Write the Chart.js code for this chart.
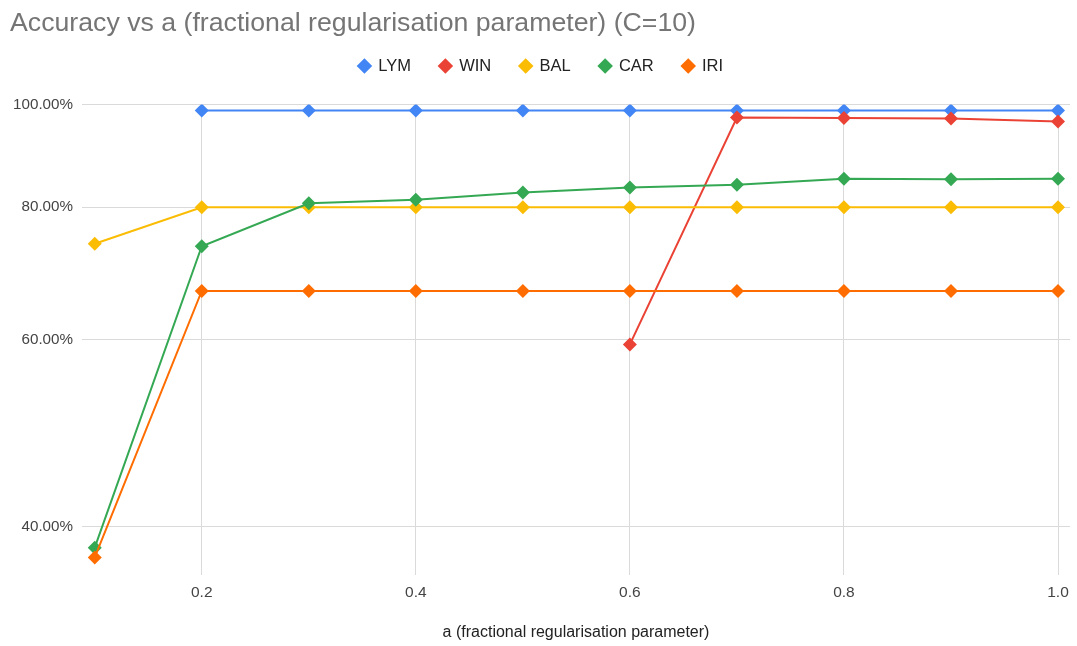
<!DOCTYPE html>
<html>
<head>
<meta charset="utf-8">
<script src="https://cdn.jsdelivr.net/npm/chart.js@4"></script>
<style>
  html, body { margin: 0; padding: 0; background: #fff; }
  #wrap { width: 1077px; height: 646px; }
</style>
</head>
<body>
<div id="wrap"><canvas id="accuracyChart" width="1077" height="646"></canvas></div>
<script>
// a values (x axis)
const aValues = [0.1, 0.2, 0.3, 0.4, 0.5, 0.6, 0.7, 0.8, 0.9, 1.0];

// accuracy per dataset
const seriesNames = ["LYM", "WIN", "BAL", "CAR", "IRI"];
const lym = [null, 0.987, 0.987, 0.987, 0.987, 0.987, 0.987, 0.987, 0.987, 0.987];
const win = [null, null, null, null, null, 0.594, 0.972, 0.971, 0.970, 0.964];
const bal = [0.739, 0.80, 0.80, 0.80, 0.80, 0.80, 0.80, 0.80, 0.80, 0.80];
const car = [0.382, 0.735, 0.807, 0.813, 0.826, 0.835, 0.840, 0.851, 0.850, 0.851];
const iri = [0.374, 0.667, 0.667, 0.667, 0.667, 0.667, 0.667, 0.667, 0.667, 0.667];

const xTicks = [0.2, 0.4, 0.6, 0.8, 1.0];
const yTicks = [0.4, 0.6, 0.8, 1.0];

const seriesColors = ["#4285F4", "#EA4335", "#FBBC04", "#34A853", "#FF6D01"];
const allSeries = [lym, win, bal, car, iri];

const FONT = "'Liberation Sans', Arial, sans-serif";

// Pair up x and y values for the linear x scale
function toPoints(values) {
  return aValues.map((a, i) => ({ x: a, y: values[i] }));
}

const datasets = allSeries.map((values, i) => ({
  label: seriesNames[i],
  data: toPoints(values),
  borderColor: seriesColors[i],
  backgroundColor: seriesColors[i],
  borderWidth: 2,
  pointStyle: "rectRot",
  pointRadius: 7,
  pointHoverRadius: 7,
  pointBorderWidth: 0,
  order: allSeries.length - i, // later series on top
}));

// Make the legend reach down to the plot area
const legendHeightPlugin = {
  id: "legendHeight",
  beforeInit(chart) {
    const origFit = chart.legend.fit;
    chart.legend.fit = function () {
      origFit.call(this);
      this.height = 75.75;
    };
  },
};

new Chart(document.getElementById("accuracyChart"), {
  type: "line",
  data: { datasets: datasets },
  plugins: [legendHeightPlugin],
  options: {
    responsive: false,
    animation: false,
    layout: { padding: { left: 10, right: 5, top: 0, bottom: 0 } },
    plugins: {
      title: {
        display: true,
        text: "Accuracy vs a (fractional regularisation parameter) (C=10)",
        align: "start",
        color: "#757575",
        font: { family: FONT, size: 26.7, weight: "normal", lineHeight: 1.2 },
        padding: { top: 7.98, bottom: -11.27 },
      },
      legend: {
        display: true,
        position: "top",
        labels: {
          usePointStyle: true,
          pointStyle: "rectRot",
          boxWidth: 11,
          boxHeight: 11,
          padding: 29,
          color: "#222",
          font: { family: FONT, size: 16.5 },
          sort: (a, b) => a.datasetIndex - b.datasetIndex,
        },
      },
      tooltip: { enabled: false },
    },
    scales: {
      x: {
        type: "linear",
        min: 0.0881,
        max: 1.0112,
        afterBuildTicks: (scale) => {
          scale.ticks = xTicks.map((v) => ({ value: v }));
        },
        afterFit: (scale) => {
          scale.height = 71;
        },
        ticks: {
          color: "#444",
          font: { family: FONT, size: 15.5 },
          padding: 8,
          maxRotation: 0,
          callback: (v) => Number(v).toFixed(1),
        },
        grid: { color: "#dadada", drawTicks: false, lineWidth: 1 },
        border: { display: false },
        title: {
          display: true,
          text: "a (fractional regularisation parameter)",
          color: "#222",
          font: { family: FONT, size: 16 },
          padding: { top: 0, bottom: 3.7 },
        },
      },
      y: {
        type: "logarithmic",
        min: 0.36,
        max: 1.0,
        afterBuildTicks: (scale) => {
          scale.ticks = yTicks.map((v) => ({ value: v }));
        },
        afterFit: (scale) => {
          scale.width = 72;
        },
        ticks: {
          color: "#444",
          font: { family: FONT, size: 15.2 },
          padding: 9,
          callback: (v) => (v * 100).toFixed(2) + "%",
        },
        grid: { color: "#dadada", drawTicks: false, lineWidth: 1 },
        border: { display: false },
      },
    },
  },
});
</script>
</body>
</html>
